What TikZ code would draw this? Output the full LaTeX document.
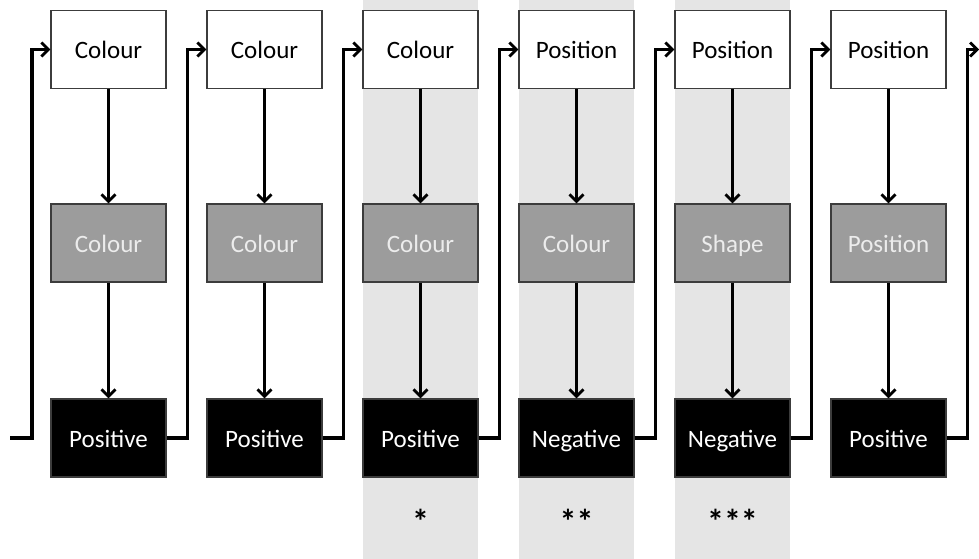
\documentclass[tikz,border=0pt]{standalone}
\usepackage{fontspec}
\setmainfont{Carlito}
\usetikzlibrary{arrows.meta}
\definecolor{bandgray}{RGB}{229,229,229}
\definecolor{midgray}{RGB}{156,156,156}
\definecolor{midtext}{RGB}{236,236,236}
\definecolor{edgegray}{RGB}{60,60,60}
\tikzset{
  box/.style={draw=edgegray, line width=1.4pt, minimum width=115pt, minimum height=78pt,
    inner sep=0pt, text height=19pt, text depth=0pt, font=\fontsize{25}{25}\selectfont},
  cuebox/.style={box, fill=white, text=black},
  featbox/.style={box, fill=midgray, text=midtext},
  outbox/.style={box, fill=black, text=white},
  link/.style={line width=3.2pt, -{Straight Barb[length=7pt,width=14pt,line width=2.8pt]}},
  loopline/.style={line width=3.2pt, -{Straight Barb[length=7pt,width=14pt,line width=2.8pt]}},
  sigmark/.style={font=\fontsize{34}{34}\selectfont\bfseries, inner sep=0pt}
}
\begin{document}
\begin{tikzpicture}[x=1pt,y=-1pt]
\useasboundingbox (0,0) rectangle (979,559);
% shaded columns 3--5
\foreach \c in {420.5,576.5,732.5}
  \fill[bandgray] (\c-57.5,0) rectangle (\c+57.5,559);
% columns: top cue, middle feature, bottom outcome
\foreach \i/\top/\mid/\bot in {1/Colour/Colour/Positive,2/Colour/Colour/Positive,
    3/Colour/Colour/Positive,4/Position/Colour/Negative,5/Position/Shape/Negative,
    6/Position/Position/Positive}{
  \pgfmathsetmacro{\cx}{108.5+156*(\i-1)}
  \node[cuebox] (t\i) at (\cx,49.5) {\top};
  \node[featbox] (m\i) at (\cx,243) {\mid};
  \node[outbox] (b\i) at (\cx,438) {\bot};
  \draw[link] (t\i.south) -- (m\i.north);
  \draw[link] (m\i.south) -- (b\i.north);
}
% feedback loops between trials
\coordinate (in0) at (10,438);
\coordinate (in1) at (32,438);
\draw[loopline] (in0) -- (in1) |- (t1.west);
\foreach \i/\j in {1/2,2/3,3/4,4/5,5/6}
  \draw[loopline] (b\i.east) -- ++(20.5,0) |- (t\j.west);
\coordinate (out) at (979,49.5);
\draw[loopline] (b6.east) -- ++(20.5,0) |- (out);
% significance marks
\node[sigmark] (s3) at (420.5,521) {*};
\node[sigmark] (s4) at (576.5,521) {**};
\node[sigmark] (s5) at (732.5,521) {***};
\end{tikzpicture}
\end{document}
